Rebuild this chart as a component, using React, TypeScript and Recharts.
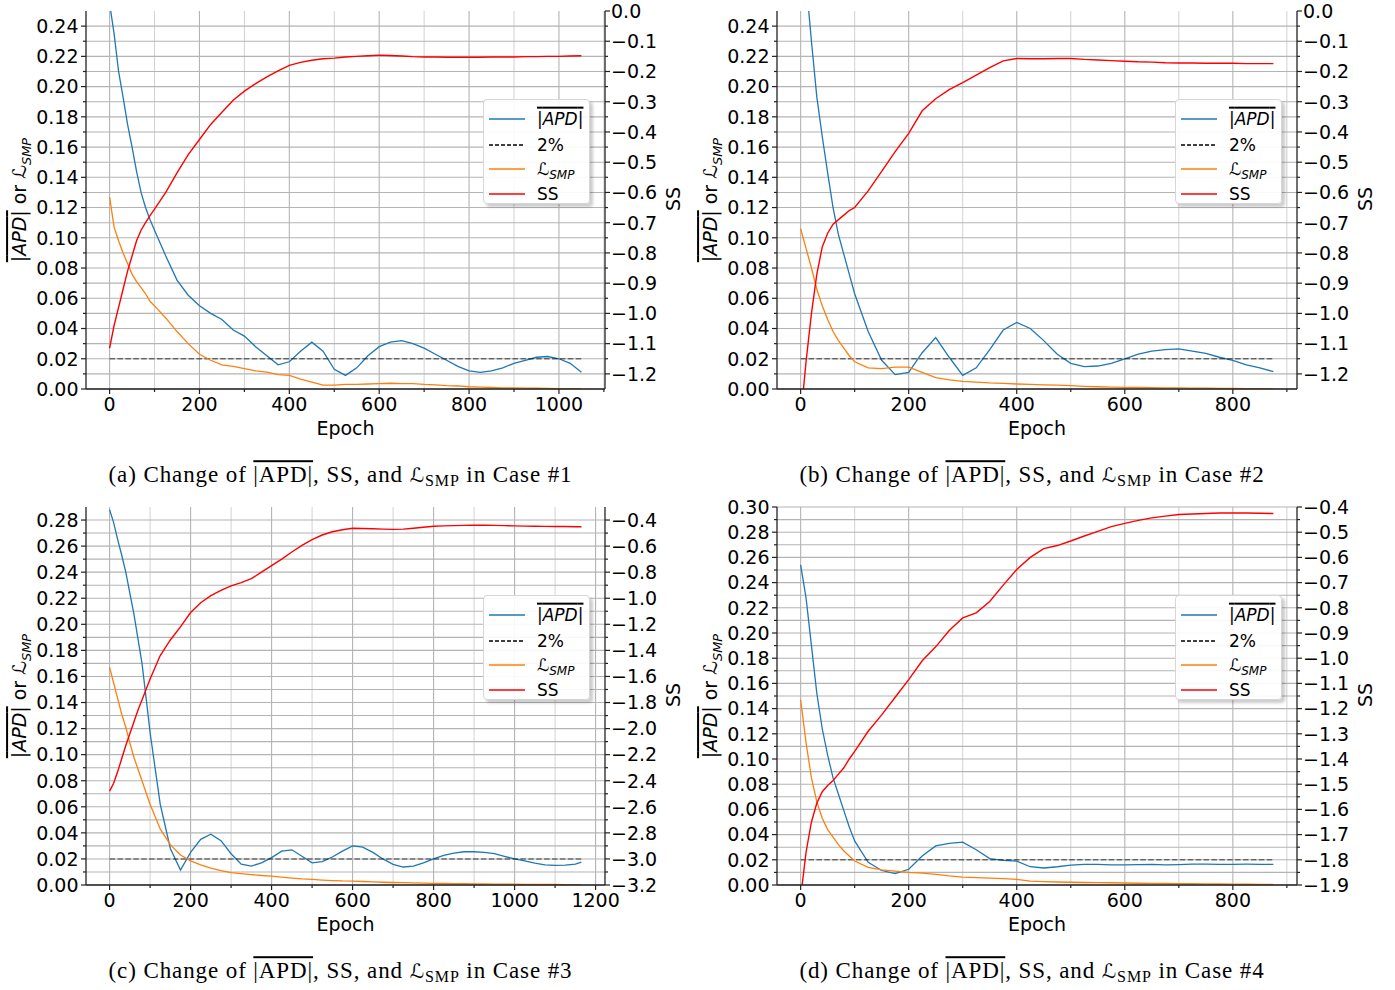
import React from 'react';
import { LineChart, Line, XAxis, YAxis, CartesianGrid } from 'recharts';

// ---------- Case #1 ----------
const epochs1 = [0, 10, 20, 30, 40, 50, 60, 70, 80, 90, 100, 125, 150, 175, 200, 225, 250, 275, 300, 325, 350, 375, 400, 425, 450, 475, 500, 525, 550, 575, 600, 625, 650, 675, 700, 725, 750, 775, 800, 825, 850, 875, 900, 925, 950, 975, 1000, 1025, 1050];
const apd1 = [0.255, 0.235, 0.21, 0.193, 0.175, 0.16, 0.144, 0.13, 0.12, 0.112, 0.105, 0.088, 0.072, 0.062, 0.055, 0.05, 0.046, 0.039, 0.035, 0.028, 0.022, 0.016, 0.018, 0.025, 0.031, 0.025, 0.013, 0.009, 0.014, 0.022, 0.028, 0.031, 0.032, 0.03, 0.027, 0.023, 0.019, 0.015, 0.012, 0.011, 0.012, 0.014, 0.017, 0.019, 0.021, 0.0215, 0.02, 0.017, 0.011];
const smp1 = [0.127, 0.107, 0.098, 0.09, 0.083, 0.076, 0.071, 0.067, 0.063, 0.058, 0.055, 0.047, 0.038, 0.03, 0.023, 0.019, 0.016, 0.015, 0.0135, 0.012, 0.0112, 0.0095, 0.009, 0.0065, 0.0045, 0.0025, 0.0025, 0.003, 0.003, 0.0033, 0.0035, 0.0038, 0.0035, 0.0035, 0.003, 0.0027, 0.0022, 0.002, 0.0015, 0.0012, 0.001, 0.0008, 0.0007, 0.0006, 0.0005, 0.0004, 0.0003, 0.0003, 0.0002];
const ss1 = [-1.115, -1.04, -0.98, -0.92, -0.86, -0.81, -0.76, -0.725, -0.7, -0.677, -0.655, -0.6, -0.535, -0.475, -0.425, -0.375, -0.335, -0.295, -0.265, -0.24, -0.218, -0.198, -0.18, -0.17, -0.163, -0.158, -0.156, -0.152, -0.15, -0.148, -0.146, -0.147, -0.149, -0.151, -0.152, -0.152, -0.153, -0.153, -0.153, -0.153, -0.152, -0.152, -0.152, -0.151, -0.151, -0.15, -0.15, -0.149, -0.148];

// ---------- Case #2 ----------
const epochs2 = [0, 10, 20, 30, 40, 50, 60, 70, 80, 90, 100, 125, 150, 175, 200, 225, 250, 275, 300, 325, 350, 375, 400, 425, 450, 475, 500, 525, 550, 575, 600, 625, 650, 675, 700, 725, 750, 775, 800, 825, 850, 875];
const apd2 = [0.32, 0.27, 0.23, 0.193, 0.167, 0.143, 0.12, 0.102, 0.089, 0.076, 0.063, 0.038, 0.019, 0.0095, 0.011, 0.024, 0.034, 0.021, 0.009, 0.014, 0.026, 0.039, 0.044, 0.04, 0.032, 0.023, 0.017, 0.0148, 0.0152, 0.017, 0.02, 0.023, 0.025, 0.026, 0.0265, 0.025, 0.0235, 0.021, 0.019, 0.016, 0.014, 0.0115];
const smp2 = [0.106, 0.093, 0.08, 0.066, 0.055, 0.046, 0.038, 0.032, 0.027, 0.022, 0.018, 0.014, 0.0135, 0.0145, 0.0145, 0.011, 0.0075, 0.006, 0.005, 0.0045, 0.004, 0.0037, 0.0033, 0.003, 0.0027, 0.0025, 0.0022, 0.0018, 0.0015, 0.0013, 0.0011, 0.001, 0.0009, 0.0008, 0.0007, 0.0006, 0.0005, 0.0004, 0.0004, 0.0003, 0.0003, 0.0002];
const ss2 = [-1.35, -1.16, -1.0, -0.87, -0.78, -0.735, -0.705, -0.69, -0.675, -0.66, -0.65, -0.595, -0.53, -0.465, -0.405, -0.33, -0.29, -0.26, -0.237, -0.212, -0.187, -0.165, -0.157, -0.158, -0.158, -0.157, -0.157, -0.16, -0.162, -0.164, -0.166, -0.168, -0.169, -0.171, -0.172, -0.172, -0.173, -0.173, -0.173, -0.174, -0.174, -0.174];

// ---------- Case #3 ----------
const epochs3 = [0, 10, 20, 30, 40, 50, 60, 70, 80, 90, 100, 125, 150, 175, 200, 225, 250, 275, 300, 325, 350, 375, 400, 425, 450, 475, 500, 525, 550, 575, 600, 625, 650, 675, 700, 725, 750, 775, 800, 825, 850, 875, 900, 925, 950, 975, 1000, 1025, 1050, 1075, 1100, 1125, 1150, 1165];
const apd3 = [0.288, 0.278, 0.265, 0.253, 0.24, 0.224, 0.208, 0.189, 0.17, 0.144, 0.117, 0.062, 0.028, 0.0115, 0.025, 0.035, 0.039, 0.034, 0.024, 0.016, 0.0145, 0.017, 0.021, 0.026, 0.027, 0.022, 0.017, 0.018, 0.0215, 0.026, 0.03, 0.029, 0.025, 0.02, 0.0158, 0.0138, 0.0145, 0.017, 0.02, 0.0228, 0.0245, 0.0255, 0.0255, 0.025, 0.024, 0.022, 0.02, 0.0185, 0.0167, 0.0155, 0.015, 0.0152, 0.016, 0.0175];
const smp3 = [0.167, 0.155, 0.143, 0.131, 0.121, 0.109, 0.098, 0.089, 0.08, 0.071, 0.062, 0.043, 0.031, 0.023, 0.0185, 0.0155, 0.013, 0.011, 0.0095, 0.0088, 0.008, 0.0073, 0.0068, 0.006, 0.0053, 0.0047, 0.0043, 0.0038, 0.0034, 0.0031, 0.003, 0.0027, 0.0024, 0.0021, 0.0019, 0.0018, 0.0016, 0.0014, 0.0013, 0.0012, 0.0011, 0.001, 0.0009, 0.0008, 0.0007, 0.0007, 0.0006, 0.0005, 0.0005, 0.0004, 0.0004, 0.0003, 0.0003, 0.0003];
const ss3 = [-2.48, -2.42, -2.33, -2.23, -2.13, -2.04, -1.95, -1.86, -1.78, -1.7, -1.62, -1.44, -1.32, -1.22, -1.11, -1.035, -0.98, -0.94, -0.905, -0.88, -0.85, -0.8, -0.75, -0.7, -0.645, -0.595, -0.55, -0.515, -0.49, -0.475, -0.463, -0.465, -0.467, -0.47, -0.472, -0.47, -0.463, -0.455, -0.448, -0.445, -0.443, -0.441, -0.44, -0.44, -0.441, -0.443, -0.445, -0.447, -0.448, -0.449, -0.45, -0.45, -0.451, -0.451];

// ---------- Case #4 ----------
const epochs4 = [0, 10, 20, 30, 40, 50, 60, 70, 80, 90, 100, 125, 150, 175, 200, 225, 250, 275, 300, 325, 350, 375, 400, 425, 450, 475, 500, 525, 550, 575, 600, 625, 650, 675, 700, 725, 750, 775, 800, 825, 850, 875];
const apd4 = [0.254, 0.228, 0.19, 0.152, 0.124, 0.103, 0.085, 0.072, 0.059, 0.046, 0.035, 0.018, 0.0115, 0.009, 0.0125, 0.023, 0.031, 0.033, 0.034, 0.028, 0.021, 0.0195, 0.019, 0.0145, 0.0135, 0.0145, 0.0158, 0.0163, 0.0163, 0.016, 0.016, 0.0162, 0.0163, 0.016, 0.0162, 0.0165, 0.0165, 0.0164, 0.0164, 0.0165, 0.0164, 0.0164];
const smp4 = [0.147, 0.113, 0.085, 0.066, 0.053, 0.044, 0.038, 0.032, 0.027, 0.023, 0.019, 0.014, 0.012, 0.011, 0.01, 0.0095, 0.0085, 0.0072, 0.0063, 0.0058, 0.0055, 0.005, 0.0045, 0.003, 0.0026, 0.0024, 0.0022, 0.002, 0.0019, 0.0018, 0.0016, 0.0014, 0.0013, 0.0012, 0.0011, 0.001, 0.0009, 0.0008, 0.0007, 0.0006, 0.0005, 0.0004];
const ss4 = [-1.95, -1.77, -1.65, -1.575, -1.53, -1.505, -1.485, -1.46, -1.435, -1.4, -1.37, -1.29, -1.225, -1.155, -1.085, -1.01, -0.955, -0.89, -0.84, -0.82, -0.775, -0.71, -0.648, -0.6, -0.565, -0.553, -0.535, -0.515, -0.497, -0.478, -0.465, -0.453, -0.443, -0.436, -0.43, -0.428, -0.426, -0.424, -0.424, -0.424, -0.425, -0.426];

const THRESHOLD = 0.02;

// ---------- tick values ----------
const xMajor1000 = [0, 200, 400, 600, 800, 1000];
const xMinor1000 = [100, 300, 500, 700, 900, 1100];
const xMajor800 = [0, 200, 400, 600, 800];
const xMinor800 = [100, 300, 500, 700, 900];
const xMajor1200 = [0, 200, 400, 600, 800, 1000, 1200];
const xMinor1200 = [100, 300, 500, 700, 900, 1100];

const leftMajor24 = [0, 0.02, 0.04, 0.06, 0.08, 0.1, 0.12, 0.14, 0.16, 0.18, 0.2, 0.22, 0.24];
const leftMinor24 = [0.01, 0.03, 0.05, 0.07, 0.09, 0.11, 0.13, 0.15, 0.17, 0.19, 0.21, 0.23];
const leftMajor28 = [0, 0.02, 0.04, 0.06, 0.08, 0.1, 0.12, 0.14, 0.16, 0.18, 0.2, 0.22, 0.24, 0.26, 0.28];
const leftMinor28 = [0.01, 0.03, 0.05, 0.07, 0.09, 0.11, 0.13, 0.15, 0.17, 0.19, 0.21, 0.23, 0.25, 0.27];
const leftMajor30 = [0, 0.02, 0.04, 0.06, 0.08, 0.1, 0.12, 0.14, 0.16, 0.18, 0.2, 0.22, 0.24, 0.26, 0.28, 0.3];
const leftMinor30 = [0.01, 0.03, 0.05, 0.07, 0.09, 0.11, 0.13, 0.15, 0.17, 0.19, 0.21, 0.23, 0.25, 0.27, 0.29];

const rightMajor12 = [0, -0.1, -0.2, -0.3, -0.4, -0.5, -0.6, -0.7, -0.8, -0.9, -1.0, -1.1, -1.2];
const rightMinor12 = [-0.05, -0.15, -0.25, -0.35, -0.45, -0.55, -0.65, -0.75, -0.85, -0.95, -1.05, -1.15];
const rightMajor32 = [-0.4, -0.6, -0.8, -1.0, -1.2, -1.4, -1.6, -1.8, -2.0, -2.2, -2.4, -2.6, -2.8, -3.0, -3.2];
const rightMinor32 = [-0.5, -0.7, -0.9, -1.1, -1.3, -1.5, -1.7, -1.9, -2.1, -2.3, -2.5, -2.7, -2.9, -3.1];
const rightMajor19 = [-0.4, -0.5, -0.6, -0.7, -0.8, -0.9, -1.0, -1.1, -1.2, -1.3, -1.4, -1.5, -1.6, -1.7, -1.8, -1.9];
const rightMinor19 = [-0.45, -0.55, -0.65, -0.75, -0.85, -0.95, -1.05, -1.15, -1.25, -1.35, -1.45, -1.55, -1.65, -1.75, -1.85];

const BLUE = '#1f77b4';
const ORANGE = '#ff7f0e';
const RED = '#ff0000';
const SANS = 'DejaVu Sans, sans-serif';
const SPINE = '#222';

const has = (arr: number[], v: number) => arr.some((m) => Math.abs(m - v) < 1e-9);
const merge = (a: number[], b: number[]) => [...a, ...b].sort((p, q) => p - q);
const fmtLeft = (v: number) => v.toFixed(2);
const fmtRight = (v: number) => (v < -1e-9 ? '\u2212' : '') + Math.abs(v).toFixed(1);

const panels = [
  { tag: 'a', caseNo: 1, left: 86, top: 11, plotW: 519, epochs: epochs1, apd: apd1, smp: smp1, ss: ss1,
    xDomain: [-52.5, 1102.5], xMajor: xMajor1000, xMinor: xMinor1000,
    lDomain: [0, 0.25], lMajor: leftMajor24, lMinor: leftMinor24,
    rDomain: [-1.25, 0], rMajor: rightMajor12, rMinor: rightMinor12 },
  { tag: 'b', caseNo: 2, left: 777, top: 11, plotW: 520, epochs: epochs2, apd: apd2, smp: smp2, ss: ss2,
    xDomain: [-43.75, 918.75], xMajor: xMajor800, xMinor: xMinor800,
    lDomain: [0, 0.25], lMajor: leftMajor24, lMinor: leftMinor24,
    rDomain: [-1.25, 0], rMajor: rightMajor12, rMinor: rightMinor12 },
  { tag: 'c', caseNo: 3, left: 86, top: 507, plotW: 519, epochs: epochs3, apd: apd3, smp: smp3, ss: ss3,
    xDomain: [-58.25, 1223.25], xMajor: xMajor1200, xMinor: xMinor1200,
    lDomain: [0, 0.29], lMajor: leftMajor28, lMinor: leftMinor28,
    rDomain: [-3.2, -0.3], rMajor: rightMajor32, rMinor: rightMinor32 },
  { tag: 'd', caseNo: 4, left: 777, top: 507, plotW: 520, epochs: epochs4, apd: apd4, smp: smp4, ss: ss4,
    xDomain: [-43.75, 918.75], xMajor: xMajor800, xMinor: xMinor800,
    lDomain: [0, 0.3], lMajor: leftMajor30, lMinor: leftMinor30,
    rDomain: [-1.9, -0.4], rMajor: rightMajor19, rMinor: rightMinor19 },
];

const tickText = { fontFamily: SANS, fontSize: 19, fill: '#000' };

const leftTick = (majors: number[]) => (props: any) => {
  const { x, y, payload } = props;
  const major = has(majors, payload.value);
  return (
    <g>
      <line x1={x} x2={x - (major ? 5 : 3)} y1={y} y2={y} stroke={SPINE} strokeWidth={1.2} />
      {major && (
        <text x={x - 7.5} y={y} dy="0.36em" textAnchor="end" {...tickText}>
          {fmtLeft(payload.value)}
        </text>
      )}
    </g>
  );
};

const rightTick = (majors: number[]) => (props: any) => {
  const { x, y, payload } = props;
  const major = has(majors, payload.value);
  return (
    <g>
      <line x1={x} x2={x + (major ? 5 : 3)} y1={y} y2={y} stroke={SPINE} strokeWidth={1.2} />
      {major && (
        <text x={x + 6} y={y} dy="0.36em" textAnchor="start" {...tickText}>
          {fmtRight(payload.value)}
        </text>
      )}
    </g>
  );
};

const bottomTick = (majors: number[]) => (props: any) => {
  const { x, y, payload } = props;
  const major = has(majors, payload.value);
  return (
    <g>
      <line x1={x} x2={x} y1={y} y2={y + (major ? 5 : 3)} stroke={SPINE} strokeWidth={1.2} />
      {major && (
        <text x={x} y={y + 7.5} dy="0.76em" textAnchor="middle" {...tickText}>
          {String(payload.value)}
        </text>
      )}
    </g>
  );
};

const Bar = ({ children }: { children: React.ReactNode }) => (
  <span style={{ textDecoration: 'overline', textDecorationThickness: '1.5px' }}>{children}</span>
);

function LegendBox({ left, top }: { left: number; top: number }) {
  const rows = [
    { y: 19, stroke: BLUE, dash: undefined, label: <Bar>|<i>APD</i>|</Bar> },
    { y: 45, stroke: '#000', dash: '4 2', label: <span>2%</span> },
    { y: 69, stroke: ORANGE, dash: undefined, label: <span><i>ℒ</i><i style={{ fontSize: 12, position: 'relative', top: 4 }}>SMP</i></span> },
    { y: 94, stroke: RED, dash: undefined, label: <span>SS</span> },
  ];
  return (
    <div
      style={{
        position: 'absolute', left, top, width: 107, height: 105,
        background: 'rgba(255,255,255,0.9)', border: '1px solid #d6d6d6', borderRadius: 4,
        boxShadow: '3px 3px 3px rgba(0,0,0,0.2)', fontFamily: SANS, fontSize: 17, boxSizing: 'border-box',
      }}
    >
      {rows.map((r, i) => (
        <React.Fragment key={i}>
          <svg style={{ position: 'absolute', left: 5, top: r.y - 3 }} width={36} height={6}>
            <line x1={0} x2={36} y1={3} y2={3} stroke={r.stroke} strokeWidth={1.5} strokeDasharray={r.dash} />
          </svg>
          <div style={{ position: 'absolute', left: 53, top: r.y, transform: 'translateY(-50%)', lineHeight: 1.1, whiteSpace: 'nowrap' }}>
            {r.label}
          </div>
        </React.Fragment>
      ))}
    </div>
  );
}

function Panel({ p }: { p: (typeof panels)[number] }) {
  const rows = p.epochs.map((e, i) => ({ epoch: e, apd: p.apd[i], smp: p.smp[i], ss: p.ss[i], thr: THRESHOLD }));
  const chartW = 700;
  const plotH = 378;
  const chartH = 10 + plotH + 61;
  const rightW = chartW - 20 - 86 - p.plotW;
  const cx = 86 + p.plotW / 2;
  return (
    <div style={{ position: 'absolute', left: p.left - 86, top: p.top - 10, width: chartW, height: 500 }}>
      <LineChart width={chartW} height={chartH} data={rows} margin={{ top: 10, right: 20, bottom: 16, left: 0 }}>
        <CartesianGrid xAxisId="B" yAxisId="L" horizontal={false} verticalValues={p.xMinor} stroke="#d2d2d2" strokeWidth={1} />
        <CartesianGrid xAxisId="B" yAxisId="L" horizontalValues={merge(p.lMajor, p.lMinor)} verticalValues={p.xMajor} stroke="#b4b4b4" strokeWidth={1.1} />
        <XAxis
          xAxisId="B" dataKey="epoch" type="number" domain={p.xDomain} allowDataOverflow
          ticks={merge(p.xMajor, p.xMinor)} interval={0} tickSize={0} tickMargin={0} tickLine={false}
          height={45} axisLine={{ stroke: SPINE, strokeWidth: 1.3 }} tick={bottomTick(p.xMajor)}
        />
        <XAxis
          xAxisId="T" orientation="top" dataKey="epoch" type="number" domain={p.xDomain} allowDataOverflow
          height={0} tick={false} tickLine={false} axisLine={{ stroke: SPINE, strokeWidth: 1.3 }}
        />
        <YAxis
          yAxisId="L" orientation="left" type="number" domain={p.lDomain} allowDataOverflow width={86}
          ticks={merge(p.lMajor, p.lMinor)} interval={0} tickSize={0} tickMargin={0} tickLine={false}
          axisLine={{ stroke: SPINE, strokeWidth: 1.3 }} tick={leftTick(p.lMajor)}
        />
        <YAxis
          yAxisId="R" orientation="right" type="number" domain={p.rDomain} allowDataOverflow width={rightW}
          ticks={merge(p.rMajor, p.rMinor)} interval={0} tickSize={0} tickMargin={0} tickLine={false}
          axisLine={{ stroke: SPINE, strokeWidth: 1.3 }} tick={rightTick(p.rMajor)}
        />
        <Line xAxisId="B" yAxisId="L" dataKey="apd" stroke={BLUE} strokeWidth={1.3} dot={false} isAnimationActive={false} />
        <Line xAxisId="B" yAxisId="L" dataKey="thr" stroke="#000" strokeOpacity={0.5} strokeWidth={1.5} strokeDasharray="5.5 2.4" dot={false} isAnimationActive={false} />
        <Line xAxisId="B" yAxisId="L" dataKey="smp" stroke={ORANGE} strokeWidth={1.3} dot={false} isAnimationActive={false} />
        <Line xAxisId="B" yAxisId="R" dataKey="ss" stroke={RED} strokeWidth={1.4} dot={false} isAnimationActive={false} />
      </LineChart>

      <LegendBox left={86 + p.plotW - 122} top={10 + 88} />

      <div style={{ position: 'absolute', left: 20, top: 10 + 189, transform: 'translate(-50%,-50%) rotate(-90deg)', fontFamily: SANS, fontSize: 19, whiteSpace: 'nowrap', lineHeight: 1.15 }}>
        <Bar>|<i>APD</i>|</Bar> or <i>ℒ</i><i style={{ fontSize: 13, position: 'relative', top: 5 }}>SMP</i>
      </div>
      <div style={{ position: 'absolute', left: 86 + p.plotW + 68, top: 10 + 188, transform: 'translate(-50%,-50%) rotate(-90deg)', fontFamily: SANS, fontSize: 19, whiteSpace: 'nowrap', lineHeight: 1 }}>
        SS
      </div>
      <div style={{ position: 'absolute', left: cx, top: 10 + 417, transform: 'translate(-50%,-50%)', fontFamily: SANS, fontSize: 19, whiteSpace: 'nowrap', lineHeight: 1 }}>
        Epoch
      </div>
      <div style={{ position: 'absolute', left: cx - 5, top: 10 + 464, transform: 'translate(-50%,-50%)', fontFamily: 'Liberation Serif, serif', fontSize: 23, letterSpacing: 0.9, whiteSpace: 'nowrap', lineHeight: 1.2 }}>
        ({p.tag}) Change of <Bar>|APD|</Bar>, SS, and <i style={{ fontFamily: SANS, fontSize: 20 }}>ℒ</i><span style={{ fontSize: 16, position: 'relative', top: 4 }}>SMP</span> in Case #{p.caseNo}
      </div>
    </div>
  );
}

export default function App() {
  return (
    <div style={{ position: 'absolute', left: 0, top: 0, width: 1395, height: 990, background: '#fff', overflow: 'hidden' }}>
      {panels.map((p) => (
        <Panel key={p.tag} p={p} />
      ))}
    </div>
  );
}
